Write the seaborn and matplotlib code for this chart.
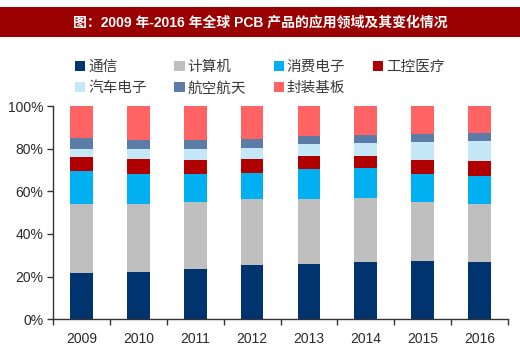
import numpy as np
import pandas as pd
import matplotlib
matplotlib.use('Agg')
import matplotlib.pyplot as plt
from matplotlib.patches import Rectangle
from matplotlib.ticker import PercentFormatter
import seaborn as sns

# 各年の応用分野シェア（%）
years = ['2009', '2010', '2011', '2012', '2013', '2014', '2015', '2016']
categories = ['通信', '计算机', '消费电子', '工控医疗', '汽车电子', '航空航天', '封装基板']
tongxin = [21.8, 22.2, 23.6, 25.5, 25.8, 26.6, 27.2, 26.9]
jisuanji = [32.0, 31.6, 31.5, 30.8, 30.5, 30.4, 27.9, 26.9]
xiaofei = [15.8, 14.3, 12.8, 12.2, 14.0, 13.9, 12.8, 13.5]
gongkong = [6.5, 6.9, 6.7, 6.5, 6.1, 5.8, 6.6, 6.7]
qiche = [3.9, 5.0, 5.2, 5.4, 5.9, 6.1, 8.8, 9.6]
hangkong = [5.1, 4.0, 4.2, 4.3, 3.8, 3.7, 3.7, 3.9]
fengzhuang = [14.9, 16.0, 16.0, 15.3, 13.9, 13.5, 13.0, 12.5]

colors = ['#00346e', '#bfbfbf', '#00b0f0', '#b00000', '#c4e8f8', '#5a7ca6', '#ff6363']

sns.set_theme(style='white')
plt.rcParams['font.family'] = ['Liberation Sans', 'Noto Sans CJK SC', 'DejaVu Sans']

df = pd.DataFrame({'year': years})
series = [tongxin, jisuanji, xiaofei, gongkong, qiche, hangkong, fengzhuang]
cum = np.cumsum(np.array(series), axis=0)
for name, vals in zip(categories, cum):
    df[name] = vals
df[categories[-1]] = 100.0  # 合計を100%に揃える

fig = plt.figure(figsize=(5.2, 3.57), dpi=100)
ax = fig.add_axes([0.102, 0.106, 0.875, 0.597])

# 上から順に累積値を描いて積み上げ棒にする
for name, c in reversed(list(zip(categories, colors))):
    sns.barplot(data=df, x='year', y=name, color=c, width=0.4, ax=ax,
                label=name, saturation=1, linewidth=0)

ax.set_xlim(-0.5, len(years) - 0.5)
ax.set_ylim(0, 100)
ax.set_yticks(range(0, 101, 20))
ax.yaxis.set_major_formatter(PercentFormatter(decimals=0))
ax.set_xlabel('')
ax.set_ylabel('')
ax.set_xticks(np.arange(-0.5, len(years), 1), minor=True)
ax.tick_params(axis='x', which='major', length=0, pad=9, labelsize=10, labelcolor='#2a2a2a')
ax.tick_params(axis='x', which='minor', length=4, width=1, color='#333333', direction='out')
ax.tick_params(axis='y', length=4, width=1, color='#333333', direction='out', pad=3,
               labelsize=10, labelcolor='#2a2a2a')
ax.tick_params(axis='y', left=True)
ax.tick_params(axis='x', which='minor', bottom=True)
for s in ['top', 'right']:
    ax.spines[s].set_visible(False)
for s in ['left', 'bottom']:
    ax.spines[s].set_color('#333333')
    ax.spines[s].set_linewidth(1)

handles, labels = ax.get_legend_handles_labels()
lookup = dict(zip(labels, handles))
order = [0, 4, 1, 5, 2, 6, 3]
leg = ax.legend([lookup[categories[i]] for i in order], [categories[i] for i in order],
                ncol=4, loc='upper left', bbox_to_anchor=(75 / 520, 1 - 60 / 357),
                bbox_transform=fig.transFigure, frameon=False, fontsize=10.5,
                handlelength=0.7, handleheight=0.7, handletextpad=0.2,
                columnspacing=1.9, labelspacing=0.5, borderpad=0, borderaxespad=0)
for t in leg.get_texts():
    t.set_color('#3a3a3a')

# タイトル帯
fig.patches.append(Rectangle((0, 1 - 37 / 357), 1, 30 / 357, transform=fig.transFigure,
                             facecolor='#9b0000', edgecolor='none', zorder=0))
fig.text(0.5, 1 - 22 / 357, '图：2009 年-2016 年全球 PCB 产品的应用领域及其变化情况',
         ha='center', va='center', color='white', fontsize=10, fontweight='bold')

fig.savefig('out.png', dpi=100)
